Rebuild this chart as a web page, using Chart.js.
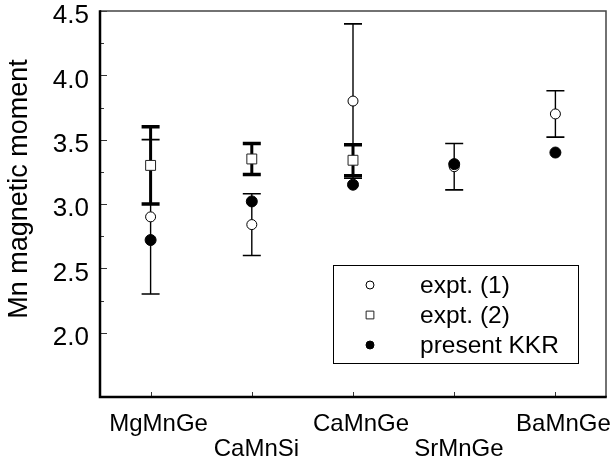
<!DOCTYPE html>
<html><head><meta charset="utf-8">
<script src="https://cdn.jsdelivr.net/npm/chart.js@4/dist/chart.umd.min.js"></script>
<style>html,body{margin:0;padding:0;background:#fff;} #wrap{width:614px;height:463px;position:relative;}</style>
</head><body><div id="wrap"><canvas id="c"></canvas></div>
<script>
const categories = ['MgMnGe', 'CaMnSi', 'CaMnGe', 'SrMnGe', 'BaMnGe'];
const expt1 = [2.90, 2.84, 3.80, 3.29, 3.70];
const expt1Err = [0.60, 0.24, 0.60, 0.18, 0.18];
const expt2 = [3.30, 3.35, 3.34, null, null];
const expt2Err = [0.30, 0.12, 0.12, null, null];
const kkr = [2.72, 3.02, 3.15, 3.31, 3.40];
const yTicks = [2.0, 2.5, 3.0, 3.5, 4.0, 4.5];
const yMinorTicks = [2.25, 2.75, 3.25, 3.75, 4.25];
const seriesLabels = ['expt. (1)', 'expt. (2)', 'present KKR'];
const yTitle = 'Mn magnetic moment';

const FONT = "'Liberation Sans', Arial, Helvetica, sans-serif";

function pts(vals) {
  return vals.map((v, i) => (v == null ? null : { x: i, y: v })).filter(p => p);
}

const decorPlugin = {
  id: 'decor',
  beforeDatasetsDraw(chart) {
    const { ctx, chartArea: a, scales: { x, y } } = chart;
    ctx.save();
    ctx.strokeStyle = '#333';
    ctx.lineWidth = 1;
    yTicks.forEach(v => {
      const py = Math.round(y.getPixelForValue(v)) + 0.5;
      ctx.beginPath(); ctx.moveTo(a.left, py); ctx.lineTo(a.left + 7, py); ctx.stroke();
    });
    yMinorTicks.forEach(v => {
      const py = Math.round(y.getPixelForValue(v)) + 0.5;
      ctx.beginPath(); ctx.moveTo(a.left, py); ctx.lineTo(a.left + 4, py); ctx.stroke();
    });
    categories.forEach((c, i) => {
      const px = Math.round(x.getPixelForValue(i)) + 0.5;
      ctx.beginPath(); ctx.moveTo(px, a.bottom); ctx.lineTo(px, a.bottom - 5); ctx.stroke();
    });
    const drawErr = (vals, errs, lw, capLw, half) => {
      vals.forEach((v, i) => {
        if (v == null || errs[i] == null) return;
        const px = x.getPixelForValue(i);
        const yt = y.getPixelForValue(v + errs[i]);
        const yb = y.getPixelForValue(v - errs[i]);
        ctx.strokeStyle = '#000';
        ctx.lineWidth = lw;
        ctx.beginPath(); ctx.moveTo(px, yt); ctx.lineTo(px, yb); ctx.stroke();
        ctx.lineWidth = capLw;
        ctx.beginPath();
        ctx.moveTo(px - half, yt); ctx.lineTo(px + half, yt);
        ctx.moveTo(px - half, yb); ctx.lineTo(px + half, yb);
        ctx.stroke();
      });
    };
    drawErr(expt1, expt1Err, 1.4, 1.6, 9);
    drawErr(expt2, expt2Err, 3, 3.5, 9);
    ctx.restore();
  },
  afterDraw(chart) {
    const { ctx, chartArea: a } = chart;
    ctx.save();
    ctx.strokeStyle = '#444';
    ctx.lineWidth = 1.5;
    ctx.beginPath();
    ctx.moveTo(a.left, a.top); ctx.lineTo(a.right, a.top); ctx.lineTo(a.right, a.bottom);
    ctx.stroke();
    ctx.strokeStyle = '#000';
    ctx.lineWidth = 2.5;
    ctx.beginPath();
    ctx.moveTo(a.left, a.top - 0.75); ctx.lineTo(a.left, a.bottom); ctx.lineTo(a.right + 0.75, a.bottom);
    ctx.stroke();
    const lx = a.left + 233, ly = a.top + 254, lw = 245, lh = 98;
    ctx.lineWidth = 1;
    ctx.strokeStyle = '#000';
    ctx.strokeRect(Math.round(lx) + 0.5, Math.round(ly) + 0.5, lw, lh);
    const order = [2, 1, 0];
    ctx.font = '24.5px ' + FONT;
    ctx.textBaseline = 'middle';
    ctx.textAlign = 'left';
    order.forEach((di, r) => {
      const ds = chart.data.datasets[di];
      const cy = ly + 20 + r * 30;
      const cx = lx + 37;
      ctx.fillStyle = ds.backgroundColor;
      ctx.strokeStyle = ds.borderColor;
      ctx.lineWidth = 1;
      Chart.helpers.drawPoint(ctx, { pointStyle: ds.pointStyle, radius: ds.pointStyle === 'rect' ? 5.5 : 4, borderWidth: 1, rotation: 0 }, cx, cy);
      ctx.fillStyle = '#000';
      ctx.fillText(ds.label, lx + 87, cy + 1);
    });
    ctx.restore();
  }
};

new Chart(document.getElementById('c'), {
  type: 'scatter',
  data: {
    datasets: [
      { label: seriesLabels[2], data: pts(kkr), pointStyle: 'circle', pointRadius: 5.5, pointBackgroundColor: '#000', pointBorderColor: '#000', backgroundColor: '#000', borderColor: '#000', pointBorderWidth: 1, order: 0 },
      { label: seriesLabels[1], data: pts(expt2), pointStyle: 'rect', pointRadius: 7, pointBackgroundColor: '#fff', pointBorderColor: '#222', backgroundColor: '#fff', borderColor: '#222', pointBorderWidth: 1, order: 1 },
      { label: seriesLabels[0], data: pts(expt1), pointStyle: 'circle', pointRadius: 5, pointBackgroundColor: '#fff', pointBorderColor: '#000', backgroundColor: '#fff', borderColor: '#000', pointBorderWidth: 1, order: 2 }
    ]
  },
  options: {
    responsive: true,
    maintainAspectRatio: false,
    animation: false,
    events: [],
    layout: { padding: { top: 11, right: 7, left: 0, bottom: 0 } },
    plugins: { legend: { display: false }, tooltip: { enabled: false } },
    scales: {
      x: {
        type: 'linear', min: -0.5, max: 4.5,
        afterBuildTicks: s => { s.ticks = categories.map((c, i) => ({ value: i })); },
        afterFit: s => { s.height = 66; s.paddingLeft = 0; s.paddingRight = 0; },
        grid: { display: false, drawTicks: false },
        border: { display: false },
        ticks: {
          autoSkip: false, maxRotation: 0, padding: 15, color: '#000', labelOffset: 8,
          font: { family: FONT, size: 24, lineHeight: 1.05 },
          callback: v => { const i = Math.round(v); return i % 2 === 0 ? categories[i] : ['', categories[i] + '\u00A0']; }
        }
      },
      y: {
        type: 'linear', min: 1.5, max: 4.5,
        afterBuildTicks: s => { s.ticks = yTicks.map(v => ({ value: v })); },
        afterFit: s => { s.width = 100; s.paddingTop = 0; s.paddingBottom = 0; },
        grid: { display: false, drawTicks: false },
        border: { display: false },
        ticks: {
          autoSkip: false, padding: 11, color: '#000', labelOffset: 5,
          font: { family: FONT, size: 26, lineHeight: 1.2 },
          callback: v => v.toFixed(1)
        },
        title: {
          display: true, text: '\u00A0\u00A0\u00A0\u00A0' + yTitle, color: '#000',
          font: { family: FONT, size: 27, lineHeight: 1.2 },
          padding: { top: 3, bottom: 0 }
        }
      }
    }
  },
  plugins: [decorPlugin]
});
</script>
</body></html>
